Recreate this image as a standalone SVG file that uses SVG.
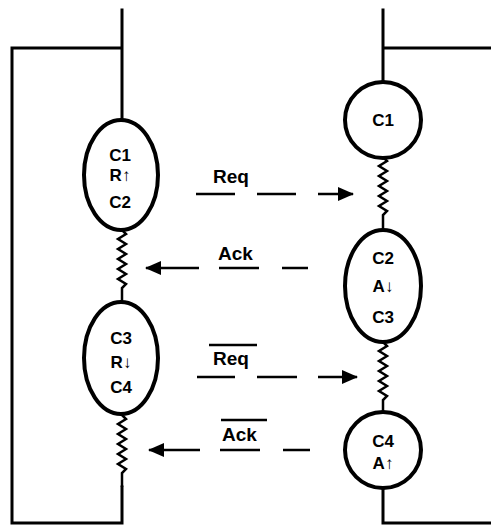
<svg xmlns="http://www.w3.org/2000/svg" width="491" height="527" viewBox="0 0 491 527">
<defs>
<marker id="ah" markerWidth="16" markerHeight="14" refX="15" refY="7" orient="auto" markerUnits="userSpaceOnUse">
<path d="M0,0 L16,7 L0,14 Z" fill="#000"/>
</marker>
</defs>
<style>
.w{fill:none;stroke:#000;stroke-width:3;stroke-linecap:square}
.z{fill:none;stroke:#000;stroke-width:2.5;stroke-linejoin:miter}
.n{fill:#fff;stroke:#000;stroke-width:4}
.t{font-family:"Liberation Sans",Arial,sans-serif;font-weight:bold;font-size:17px;text-anchor:middle;fill:#000}
.l{font-family:"Liberation Sans",Arial,sans-serif;font-weight:bold;font-size:19px;fill:#000}
.d{fill:none;stroke:#000;stroke-width:2.5}
</style>
<rect width="491" height="527" fill="#fff"/>
<g id="connectors">
<path class="w" d="M122,10 V120 M122,48 H12 V523 H122 V487"/>
<path class="w" d="M383,10 V82 M383,48 H491 M383,487 V523 H491"/>
<path class="z" d="M122,230 l4,4 l-8,5 l8,5 l-8,5 l8,5 l-8,5 l8,5 l-8,5 l8,5 l-8,5 l8,5 l-4,4 V302"/>
<path class="z" d="M122,415 l4,4 l-8,5 l8,5 l-8,5 l8,5 l-8,5 l8,5 l-8,5 l8,5 l-8,5 l8,5 l-4,4 V487"/>
<path class="z" d="M383,157 l4,4 l-8,5 l8,5 l-8,5 l8,5 l-8,5 l8,5 l-8,5 l8,5 l-8,5 l8,5 l-4,4 V230"/>
<path class="z" d="M383,342 l4,4 l-8,5 l8,5 l-8,5 l8,5 l-8,5 l8,5 l-8,5 l8,5 l-8,5 l8,5 l-4,4 V412"/>
<g id="req">
<text class="l" x="213" y="183">Req</text>
<path class="d" d="M196,194 H235 M257,194 H296"/>
<path class="d" d="M318,194 H353" marker-end="url(#ah)"/>
</g>
<g id="ack">
<text class="l" x="218" y="260">Ack</text>
<path class="d" d="M219,268 H259 M282,268 H308"/>
<path class="d" d="M199,268 H146" marker-end="url(#ah)"/>
</g>
<g id="reqbar">
<path class="d" d="M209,345 H257"/>
<text class="l" x="213" y="365">Req</text>
<path class="d" d="M197,377 H235 M257,377 H297"/>
<path class="d" d="M318,377 H357" marker-end="url(#ah)"/>
</g>
<g id="ackbar">
<path class="d" d="M221,420 H267"/>
<text class="l" x="222" y="441">Ack</text>
<path class="d" d="M220,450 H260 M283,450 H310"/>
<path class="d" d="M200,450 H149" marker-end="url(#ah)"/>
</g>
</g>
<g id="L1">
<ellipse class="n" cx="121" cy="175" rx="37" ry="55"/>
<text class="t" x="120" y="161">C1</text>
<text class="t" x="120" y="181">R↑</text>
<text class="t" x="120" y="208">C2</text>
</g>
<g id="L2">
<ellipse class="n" cx="121" cy="358" rx="37" ry="56"/>
<text class="t" x="121" y="344">C3</text>
<text class="t" x="121" y="368">R↓</text>
<text class="t" x="121" y="393">C4</text>
</g>
<g id="R1">
<circle class="n" cx="383" cy="120" r="38"/>
<text class="t" x="383" y="126">C1</text>
</g>
<g id="R2">
<ellipse class="n" cx="383" cy="286" rx="38" ry="56"/>
<text class="t" x="383" y="264">C2</text>
<text class="t" x="383" y="292">A↓</text>
<text class="t" x="383" y="323">C3</text>
</g>
<g id="R3">
<circle class="n" cx="383" cy="450" r="38"/>
<text class="t" x="383" y="447">C4</text>
<text class="t" x="383" y="469">A↑</text>
</g>
</svg>
